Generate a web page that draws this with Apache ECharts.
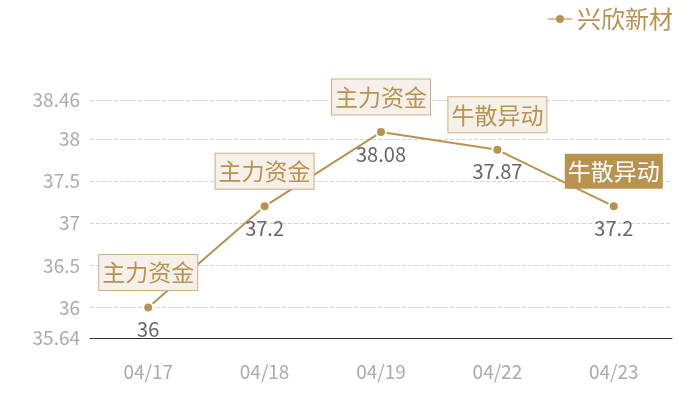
<!DOCTYPE html>
<html>
<head>
<meta charset="utf-8">
<script src="https://cdn.jsdelivr.net/npm/echarts@6/dist/echarts.min.js"></script>
<style>
  html, body { margin: 0; padding: 0; background: #fff; }
  #main { width: 700px; height: 400px; }
</style>
</head>
<body>
<div id="main"></div>
<script>
var dates = ['04/17', '04/18', '04/19', '04/22', '04/23'];
var prices = [36, 37.2, 38.08, 37.87, 37.2];
var tags = ['主力资金', '主力资金', '主力资金', '牛散异动', '牛散异动'];
var tagActive = [false, false, false, false, true]; // 最后一个是实心标签
var yMin = 35.64;
var yMax = 38.46;

var gold = '#b8924f';
var font = '"Noto Sans CJK SC", "Noto Sans", sans-serif';

var marks = [];
for (var i = 0; i < dates.length; i++) {
    var on = tagActive[i];
    marks.push({
        coord: [dates[i], prices[i]],
        value: tags[i],
        label: {
            color: on ? '#fff' : gold,
            backgroundColor: on ? gold : '#f5f0ea',
            borderColor: on ? gold : '#cfae82',
            borderWidth: on ? 0 : 1
        }
    });
}

var myChart = echarts.init(document.getElementById('main'));
myChart.setOption({
    animation: false,
    textStyle: { fontFamily: font },
    legend: {
        right: 22,
        top: 2,
        itemWidth: 24,
        itemHeight: 10,
        itemGap: 6,
        itemStyle: { borderWidth: 0 },
        lineStyle: { color: '#d9c3a0' },
        textStyle: { color: gold, fontSize: 24, fontFamily: font },
        data: ['兴欣新材']
    },
    grid: {
        left: 90,
        right: 28,
        top: 100,
        bottom: 62
    },
    xAxis: {
        type: 'category',
        data: dates,
        axisLine: { lineStyle: { color: '#333' } },
        axisTick: { show: false },
        axisLabel: { color: '#aaa', fontSize: 19, margin: 24, fontFamily: font }
    },
    yAxis: {
        type: 'value',
        min: yMin,
        max: yMax,
        splitNumber: 5,
        axisLine: { show: false },
        axisTick: { show: false },
        axisLabel: { color: '#aaa', fontSize: 19, margin: 10, fontFamily: font },
        splitLine: { lineStyle: { color: '#d4d4d4', type: 'dashed' } }
    },
    series: [{
        name: '兴欣新材',
        type: 'line',
        data: prices,
        symbol: 'circle',
        symbolSize: 10,
        lineStyle: { color: gold, width: 2 },
        itemStyle: { color: gold, borderColor: '#fff', borderWidth: 2 },
        label: {
            show: true,
            position: 'bottom',
            distance: 6,
            color: '#666',
            fontSize: 20,
            fontFamily: font
        },
        markPoint: {
            symbol: 'circle',
            symbolSize: 1,
            itemStyle: { color: 'rgba(0,0,0,0)' },
            label: {
                show: true,
                position: 'inside',
                offset: [0, -35],
                formatter: '{c}',
                fontSize: 23,
                fontFamily: font,
                padding: [3, 3, 2, 3],
                lineHeight: 30
            },
            data: marks
        }
    }]
});
</script>
</body>
</html>
